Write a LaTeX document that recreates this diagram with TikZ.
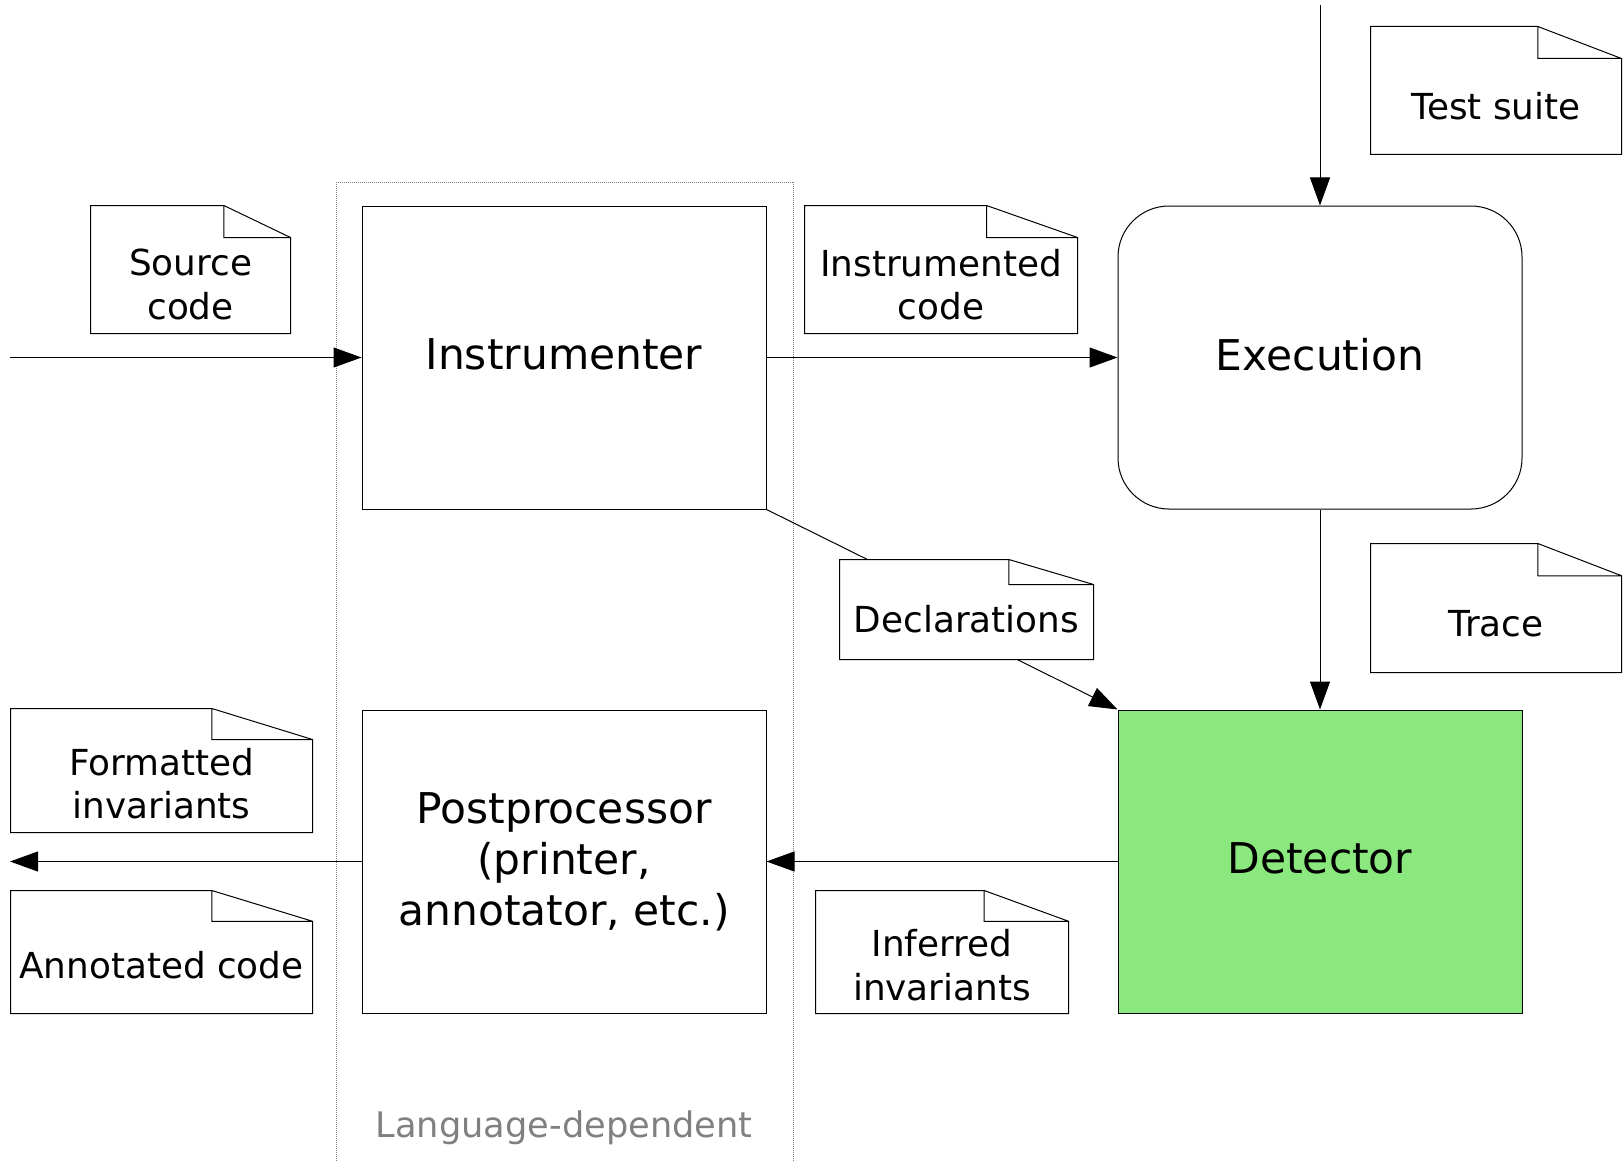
\documentclass[tikz,border=0pt]{standalone}
\usepackage{fontspec}
\setmainfont{DejaVu Sans}
\usetikzlibrary{arrows.meta,calc}

\definecolor{detectorgreen}{RGB}{139,232,127}

\begin{document}
\begin{tikzpicture}[x=0.5pt, y=-0.5pt, line width=0.5pt,
    stage/.style={draw, minimum width=202pt, minimum height=151.5pt, inner sep=0pt, align=center, font=\fontsize{21.2}{25.5}\selectfont},
    note/.style 2 args={minimum width=#1, minimum height=#2, inner sep=0pt},
    notetext/.style={inner sep=0pt, align=center, yshift=#1, font=\fontsize{17.9}{21.8}\selectfont},
    notetext/.default=-7pt,
    flow/.style={-{Triangle[length=14pt, width=10pt]}}]
  \useasboundingbox (0,0) rectangle (1623,1161);

  % language-dependent part
  \draw[gray, dash pattern=on 0.5pt off 0.5pt] (336,1161) |- (793,183) -- (793,1161);
  \node[text=gray, font=\fontsize{17.6}{21}\selectfont] (lang) at (564,1128) {Language-dependent};

  % stages
  \node[stage, text depth=3pt] (instr) at (564,357.5) {Instrumenter};
  \node[stage, text depth=3pt, rounded corners=25.5pt] (exec) at (1320,357.5) {Execution};
  \node[stage, text depth=3pt, fill=detectorgreen] (detect) at (1320,861.5) {Detector};
  \node[stage] (post) at (564,861.5) {Postprocessor\\(printer,\\annotator, etc.)};

  % documents
  \node[note={99.5pt}{63.5pt}, label={[notetext=-7.5pt]center:{Source\\code}}] (src) at (190.5,269.5) {};
  \node[note={136pt}{63.5pt}, label={[notetext=-7.5pt]center:{Instrumented\\code}}] (icode) at (941,269.5) {};
  \node[note={125pt}{63.5pt}, label={[notetext=-8pt]center:Test suite}] (tests) at (1496,90.5) {};
  \node[note={126.5pt}{49.5pt}, label={[notetext=-5pt]center:Declarations}] (decl) at (966.5,609.5) {};
  \node[note={125pt}{64pt}, label={[notetext=-8pt]center:Trace}] (trace) at (1496,608) {};
  \node[note={150.5pt}{61.5pt}, label={[notetext=-6.5pt]center:{Formatted\\invariants}}] (fmt) at (161.5,770.5) {};
  \node[note={150.5pt}{61pt}, label={[notetext=-6.5pt]center:Annotated code}] (annot) at (161.5,952) {};
  \node[note={126pt}{61pt}, label={[notetext=-6.5pt]center:{Inferred\\invariants}}] (infer) at (942,952) {};

  \foreach \n in {src,icode,tests,decl,trace,fmt,annot,infer}
    \draw (\n.north west) -- ($(\n.north west)!2/3!(\n.north east)$) coordinate (fold)
      -- ($(\n.north east)!1/4!(\n.south east)$) coordinate (tip)
      -- (\n.south east) -- (\n.south west) -- cycle
      (fold) |- (tip);

  % connectors
  \coordinate (input) at (10,357.5);
  \coordinate (output) at (10,861.5);
  \coordinate (driver) at (1320,5);
  \draw[flow] (input) -- (instr.west);
  \draw[flow] (instr.east) -- (exec.west);
  \draw[flow] (driver) -- (exec.north);
  \draw[flow] (exec.south) -- (detect.north);
  \draw (instr.south east) -- ($(decl.north west)!0.11!(decl.north east)$);
  \draw[flow] ($(decl.south west)!0.7!(decl.south east)$) -- (detect.north west);
  \draw[flow] (detect.west) -- (post.east);
  \draw[flow] (post.west) -- (output);
\end{tikzpicture}
\end{document}
